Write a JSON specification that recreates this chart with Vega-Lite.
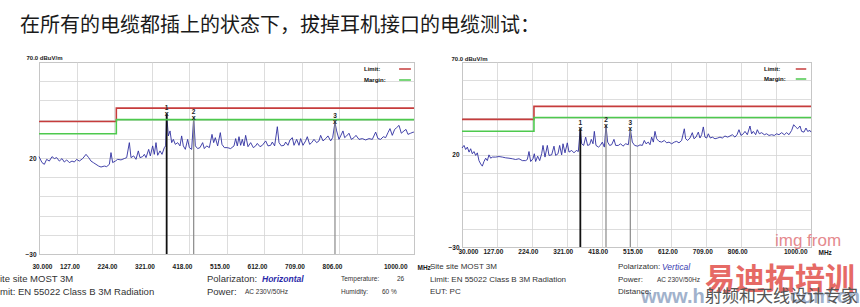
{
"$schema": "https://vega.github.io/schema/vega-lite/v6.json",
"background": "white",
"padding": {"left": 0, "top": 15, "right": 0, "bottom": 0},
"title": {"text": "在所有的电缆都插上的状态下，拔掉耳机接口的电缆测试：", "anchor": "start", "frame": "group", "dx": -19, "offset": 18, "font": "Noto Sans CJK SC", "fontSize": 20, "fontWeight": "normal", "color": "#1a1a1a"},
"datasets": {
"leftTrace": [
{"f":30,"v":20.7},{"f":37.8,"v":17.6},{"f":43.8,"v":16.7},{"f":49.8,"v":19.3},{"f":56.7,"v":18.4},{"f":63.6,"v":20.7},{"f":69.7,"v":19.7},{"f":75.7,"v":20.2},{"f":82.6,"v":18.4},{"f":89.5,"v":19.7},{"f":95.5,"v":17.9},{"f":101.6,"v":19.0},{"f":108.5,"v":17.6},{"f":115.4,"v":18.4},{"f":121.4,"v":17.9},{"f":127.4,"v":19.3},{"f":134.3,"v":18.4},{"f":143,"v":19.7},{"f":151.6,"v":21.9},{"f":158.5,"v":20.2},{"f":164.5,"v":18.4},{"f":170.5,"v":17.6},{"f":177.4,"v":16.7},{"f":184.3,"v":15.8},{"f":190.4,"v":15.3},{"f":199,"v":15.8},{"f":205,"v":15.5},{"f":212,"v":16.7},{"f":216.2,"v":22.8},{"f":220.5,"v":17.6},{"f":227.4,"v":18.4},{"f":233.5,"v":19.3},{"f":242.1,"v":19.0},{"f":250.7,"v":19.7},{"f":256.8,"v":20.2},{"f":263.7,"v":28.0},{"f":268,"v":20.2},{"f":274.9,"v":21.1},{"f":280.9,"v":19.3},{"f":286.9,"v":23.7},{"f":291.2,"v":20.2},{"f":298.1,"v":20.7},{"f":302.5,"v":21.9},{"f":306.8,"v":20.2},{"f":313.7,"v":24.5},{"f":318,"v":21.1},{"f":324,"v":26.3},{"f":328.3,"v":21.9},{"f":332.6,"v":28.0},{"f":337,"v":21.4},{"f":343,"v":23.7},{"f":348.2,"v":21.9},{"f":354.2,"v":25.4},{"f":357.6,"v":26.3},{"f":360.2,"v":43.0},{"f":364.5,"v":31.5},{"f":368.9,"v":34.1},{"f":373.2,"v":28.0},{"f":377.5,"v":29.7},{"f":382.6,"v":27.1},{"f":388.7,"v":28.0},{"f":394.7,"v":26.3},{"f":399,"v":31.5},{"f":403.3,"v":26.3},{"f":408.5,"v":24.5},{"f":414.5,"v":29.7},{"f":418.9,"v":25.4},{"f":424.9,"v":24.5},{"f":430.1,"v":41.0},{"f":434.4,"v":26.3},{"f":440.4,"v":24.9},{"f":446.4,"v":25.4},{"f":453.3,"v":28.0},{"f":457.6,"v":24.9},{"f":463.7,"v":26.3},{"f":470.6,"v":25.4},{"f":477.5,"v":32.3},{"f":481.8,"v":28.0},{"f":486.1,"v":30.6},{"f":492.1,"v":26.3},{"f":499,"v":33.2},{"f":503.3,"v":27.1},{"f":509.4,"v":25.4},{"f":517.1,"v":25.4},{"f":525.7,"v":24.9},{"f":534.4,"v":26.3},{"f":538.7,"v":30.1},{"f":543,"v":26.3},{"f":547.3,"v":31.1},{"f":551.6,"v":26.6},{"f":555.9,"v":29.7},{"f":560.2,"v":26.3},{"f":564.5,"v":31.8},{"f":570.6,"v":25.9},{"f":577.5,"v":28.0},{"f":584.4,"v":25.4},{"f":590.4,"v":26.3},{"f":594.7,"v":27.6},{"f":601.6,"v":25.9},{"f":607.7,"v":26.6},{"f":616.3,"v":28.9},{"f":622.3,"v":26.3},{"f":629.2,"v":26.6},{"f":633.5,"v":28.3},{"f":639.5,"v":26.3},{"f":646.5,"v":36.3},{"f":650.8,"v":28.0},{"f":656.8,"v":26.3},{"f":663.7,"v":26.6},{"f":668,"v":28.3},{"f":674,"v":26.6},{"f":679.2,"v":29.4},{"f":685.3,"v":30.6},{"f":689.6,"v":26.6},{"f":696.5,"v":29.7},{"f":702.5,"v":26.6},{"f":706.8,"v":30.1},{"f":712.8,"v":26.6},{"f":719.7,"v":28.9},{"f":724,"v":31.1},{"f":730.1,"v":27.1},{"f":735.3,"v":28.0},{"f":741.3,"v":29.7},{"f":748.2,"v":28.0},{"f":754.2,"v":28.9},{"f":758.5,"v":31.8},{"f":764.6,"v":28.9},{"f":771.5,"v":30.1},{"f":777.5,"v":31.5},{"f":784.4,"v":28.9},{"f":789.6,"v":30.6},{"f":795.6,"v":38.5},{"f":799.9,"v":34.1},{"f":806,"v":29.7},{"f":810.3,"v":31.5},{"f":816.3,"v":34.1},{"f":820.6,"v":30.6},{"f":825.8,"v":31.5},{"f":831.8,"v":32.9},{"f":837.9,"v":29.7},{"f":844.8,"v":30.6},{"f":849.9,"v":31.8},{"f":857.7,"v":29.7},{"f":866.3,"v":30.1},{"f":874.9,"v":29.4},{"f":883.6,"v":30.1},{"f":892.2,"v":29.7},{"f":900.8,"v":33.5},{"f":906.8,"v":30.1},{"f":913.7,"v":29.7},{"f":920.6,"v":31.1},{"f":926.7,"v":30.6},{"f":932.7,"v":33.2},{"f":937.9,"v":35.3},{"f":943.9,"v":31.8},{"f":950,"v":34.9},{"f":955.1,"v":35.8},{"f":961.2,"v":37.0},{"f":967.2,"v":32.9},{"f":974.1,"v":34.1},{"f":979.3,"v":34.9},{"f":984.4,"v":32.3},{"f":991.3,"v":32.9},{"f":998.2,"v":33.5},{"f":1000,"v":33.2}
],
"rightTrace": [
{"f":30,"v":23.5},{"f":35.6,"v":24.9},{"f":40.2,"v":22.7},{"f":44.8,"v":24.0},{"f":49.6,"v":21.3},{"f":54.1,"v":23.1},{"f":58.7,"v":20.4},{"f":63.3,"v":21.6},{"f":68,"v":19.5},{"f":72.6,"v":20.9},{"f":77.2,"v":16.7},{"f":81.9,"v":14.9},{"f":86.5,"v":13.7},{"f":91.1,"v":16.2},{"f":95.8,"v":18.0},{"f":100.4,"v":16.7},{"f":105,"v":19.8},{"f":109.7,"v":18.0},{"f":114.3,"v":18.6},{"f":123.6,"v":18.6},{"f":132.8,"v":18.9},{"f":142.1,"v":18.6},{"f":151.4,"v":18.2},{"f":160.6,"v":18.0},{"f":169.9,"v":17.7},{"f":179.1,"v":17.3},{"f":188.4,"v":17.7},{"f":197.7,"v":16.7},{"f":206.9,"v":16.7},{"f":211.6,"v":17.3},{"f":216.2,"v":21.6},{"f":220.8,"v":16.2},{"f":227.3,"v":17.7},{"f":231,"v":20.4},{"f":234.7,"v":16.2},{"f":240.3,"v":19.1},{"f":245.9,"v":16.7},{"f":251.4,"v":20.4},{"f":255.1,"v":24.9},{"f":260.7,"v":18.6},{"f":267.2,"v":24.9},{"f":271.8,"v":19.5},{"f":279.2,"v":19.8},{"f":285.7,"v":24.5},{"f":290.3,"v":19.5},{"f":296.8,"v":20.4},{"f":301.4,"v":24.9},{"f":307,"v":19.8},{"f":310.7,"v":25.8},{"f":316.3,"v":20.9},{"f":322.7,"v":26.3},{"f":327.4,"v":21.3},{"f":334.8,"v":22.2},{"f":341.3,"v":20.9},{"f":347.8,"v":22.2},{"f":353.3,"v":21.6},{"f":358.9,"v":34.0},{"f":362.6,"v":25.8},{"f":368.1,"v":24.9},{"f":373.7,"v":29.4},{"f":379.2,"v":24.9},{"f":384.8,"v":25.3},{"f":389.4,"v":28.2},{"f":394.1,"v":25.8},{"f":397.8,"v":32.5},{"f":402.4,"v":24.9},{"f":409.6,"v":24.0},{"f":414.4,"v":24.9},{"f":420,"v":26.7},{"f":425.6,"v":24.0},{"f":430.2,"v":35.5},{"f":434.8,"v":26.7},{"f":440.4,"v":24.9},{"f":446,"v":25.3},{"f":452.4,"v":28.2},{"f":457.1,"v":24.9},{"f":464.5,"v":24.9},{"f":470.9,"v":25.8},{"f":477.4,"v":24.5},{"f":484.9,"v":25.8},{"f":492.3,"v":25.3},{"f":497.8,"v":33.8},{"f":503.4,"v":26.7},{"f":509.9,"v":24.9},{"f":518.2,"v":24.5},{"f":524.7,"v":25.2},{"f":531.2,"v":24.9},{"f":536.7,"v":27.6},{"f":541.4,"v":25.8},{"f":547.9,"v":26.7},{"f":552.5,"v":25.3},{"f":557.1,"v":29.4},{"f":561.8,"v":26.7},{"f":566.4,"v":32.5},{"f":571,"v":28.5},{"f":577.5,"v":27.1},{"f":584.9,"v":26.7},{"f":592.3,"v":27.6},{"f":598.8,"v":26.3},{"f":605.3,"v":26.7},{"f":612.7,"v":25.8},{"f":620.1,"v":26.7},{"f":626.6,"v":27.1},{"f":633.1,"v":26.3},{"f":640.5,"v":27.6},{"f":647.9,"v":33.9},{"f":651.6,"v":28.5},{"f":657.2,"v":27.6},{"f":663.7,"v":28.9},{"f":670.1,"v":31.8},{"f":674.8,"v":28.5},{"f":680.3,"v":29.4},{"f":686.8,"v":32.1},{"f":691.4,"v":28.9},{"f":696.1,"v":30.7},{"f":700.7,"v":34.9},{"f":705.3,"v":29.4},{"f":710,"v":28.9},{"f":714.6,"v":31.2},{"f":720.2,"v":28.9},{"f":725.7,"v":29.4},{"f":733.1,"v":28.5},{"f":740.5,"v":28.9},{"f":747.1,"v":29.4},{"f":753.5,"v":28.9},{"f":760.9,"v":30.0},{"f":768.3,"v":29.4},{"f":774.8,"v":30.0},{"f":781.3,"v":30.7},{"f":788.7,"v":29.4},{"f":794.3,"v":30.7},{"f":799.8,"v":33.4},{"f":805.4,"v":30.3},{"f":811.9,"v":31.2},{"f":816.5,"v":32.5},{"f":823,"v":30.7},{"f":830.4,"v":35.4},{"f":835,"v":31.2},{"f":839.7,"v":32.5},{"f":846.2,"v":30.7},{"f":850.8,"v":33.4},{"f":856.4,"v":31.2},{"f":862.8,"v":31.8},{"f":870.2,"v":30.7},{"f":876.7,"v":31.2},{"f":883.2,"v":30.3},{"f":890.6,"v":30.7},{"f":898,"v":30.3},{"f":904.5,"v":31.2},{"f":911,"v":30.7},{"f":918.4,"v":31.8},{"f":925.8,"v":30.7},{"f":932.3,"v":31.8},{"f":938.8,"v":30.7},{"f":946.2,"v":33.0},{"f":951.8,"v":36.1},{"f":957.3,"v":34.9},{"f":962.9,"v":33.9},{"f":969.4,"v":35.4},{"f":974,"v":32.5},{"f":980.5,"v":32.1},{"f":986.1,"v":34.3},{"f":990.7,"v":32.5},{"f":997.2,"v":33.0},{"f":1000,"v":32.1}
],
"limits": [
{"s":"Limit:","f":30,"v":39},{"s":"Limit:","f":230,"v":46},{"s":"Limit:","f":1000,"v":46},
{"s":"Margin:","f":30,"v":32.6},{"s":"Margin:","f":230,"v":40},{"s":"Margin:","f":1000,"v":40}
],
"leftMarkers": [{"m":1,"f":360.2,"v":43.0},{"m":2,"f":430.1,"v":41.0},{"m":3,"f":795.6,"v":38.5}],
"rightMarkers": [{"m":1,"f":358.9,"v":34.0},{"m":2,"f":430.2,"v":35.5},{"m":3,"f":497.8,"v":33.8}],
"leftInfo": [
{"row":1,"col":1,"k":"field","t":"ite site MOST 3M"},
{"row":1,"col":2,"k":"field","t":"Polarizaton:"},
{"row":1,"col":4,"k":"pol","t":"Horizontal"},
{"row":1,"col":5,"k":"detail","t":"Temperature:"},
{"row":1,"col":7,"k":"detail","t":"26"},
{"row":2,"col":1,"k":"field","t":"mit: EN 55022 Class B 3M Radiation"},
{"row":2,"col":2,"k":"field","t":"Power:"},
{"row":2,"col":3,"k":"detail","t":"AC 230V/50Hz"},
{"row":2,"col":5,"k":"detail","t":"Humidity:"},
{"row":2,"col":6,"k":"detail","t":"60 %"}
],
"rightInfo": [
{"row":1,"col":1,"k":"field","t":"Site site MOST 3M"},
{"row":2,"col":1,"k":"field","t":"Limit: EN 55022 Class B 3M Radiation"},
{"row":3,"col":1,"k":"field","t":"EUT: PC"},
{"row":1,"col":2,"k":"field","t":"Polarizaton:"},
{"row":1,"col":5,"k":"pol","t":"Vertical"},
{"row":2,"col":2,"k":"field","t":"Power:"},
{"row":2,"col":4,"k":"detail","t":"AC 230V/50Hz"},
{"row":3,"col":2,"k":"field","t":"Distance:"},
{"row":0,"col":7,"k":"wmLatin","t":"img from"},
{"row":4,"col":3,"k":"wmUrl","t":"www.h"},
{"row":4,"col":8,"k":"wmUrl","t":"com.cn"},
{"row":2,"col":6,"k":"wmBrand","t":"易迪拓培训"},
{"row":4,"col":6,"k":"wmSlogan","t":"射频和天线设计专家"}
]
},
"columns": 2,
"spacing": {"row": 25, "column": 48},
"bounds": "flush",
"align": "each",
"resolve": {"scale": {"color": "independent", "x": "independent", "y": "independent"}, "legend": {"color": "independent"}},
"concat": [
{
"width": 375, "height": 192,
"encoding": {
  "x": {"field": "f", "type": "quantitative", "scale": {"domain": [30, 1000], "nice": false, "zero": false},
   "axis": {"values": [30,127,224,321,418,515,612,709,806,903,1000], "labelExpr": "datum.value == 30 ? '30.000' : datum.value == 903 ? '' : format(datum.value, '.2f')", "labelFlush": true, "labelOverlap": false, "labelBound": false, "labelPadding": 9, "labelOffset": -7, "title": "MHz", "titleX": 378, "titleY": 13, "titleAlign": "left", "titleBaseline": "middle", "titleFontSize": 6.5, "titleFontWeight": "bold"}},
  "y": {"field": "v", "type": "quantitative", "scale": {"domain": [-30, 70], "nice": false, "zero": false},
   "axis": {"values": [-30,-20,-10,0,10,20,30,40,50,60,70], "labelExpr": "datum.value == 20 || datum.value == -30 ? datum.label : ''", "labelOverlap": false, "labelPadding": 3, "title": "70.0       dBuV/m", "titleAngle": 0, "titleX": -13, "titleY": -5, "titleAlign": "left", "titleBaseline": "middle", "titleFontSize": 6, "titleFontWeight": "bold"}}
},
"layer": [
{"data": {"name": "leftTrace"}, "mark": {"type": "line", "color": "#2f2fa0", "strokeWidth": 0.9}},
{"data": {"name": "leftMarkers"}, "mark": {"type": "rule"},
 "encoding": {"y2": {"datum": -30},
  "color": {"condition": {"test": "datum.m == 1", "value": "#111111"}, "value": "#8a8a8a"},
  "strokeWidth": {"condition": {"test": "datum.m == 1", "value": 1.8}, "value": 1.2}}},
{"data": {"name": "limits"}, "mark": {"type": "line", "interpolate": "step-after", "strokeWidth": 1.6},
 "encoding": {
  "color": {"field": "s", "type": "nominal", "scale": {"domain": ["Limit:", "Margin:"], "range": ["#c63c3c", "#4ec94e"]},
   "legend": {"orient": "top-right", "offset": 0, "title": null, "symbolType": "stroke", "symbolStrokeWidth": 1.5, "symbolSize": 140, "labelFontSize": 6, "labelFontWeight": "bold", "labelColor": "#111111", "labelOffset": -48, "rowPadding": 1, "padding": 0}}}},
{"data": {"name": "leftMarkers"}, "mark": {"type": "text", "text": "x", "fontSize": 7, "fontWeight": "bold", "color": "#222222", "baseline": "middle"}},
{"data": {"name": "leftMarkers"}, "mark": {"type": "text", "fontSize": 6.5, "fontWeight": "bold", "color": "#222222", "baseline": "middle", "dy": -6},
 "encoding": {"text": {"field": "m"}}}
]
},
{
"width": 349, "height": 185,
"encoding": {
  "x": {"field": "f", "type": "quantitative", "scale": {"domain": [30, 1000], "nice": false, "zero": false},
   "axis": {"values": [30,127,224,321,418,515,612,709,806,903,1000], "labelExpr": "datum.value == 30 ? '30.000' : datum.value == 903 ? '' : format(datum.value, '.2f')", "labelFlush": true, "labelOverlap": false, "labelBound": false, "labelPadding": 1, "labelOffset": -4, "title": "MHz", "titleX": 356, "titleY": 5, "titleAlign": "left", "titleBaseline": "middle", "titleFontSize": 6.5, "titleFontWeight": "bold"}},
  "y": {"field": "v", "type": "quantitative", "scale": {"domain": [-30, 70], "nice": false, "zero": false},
   "axis": {"values": [-30,-20,-10,0,10,20,30,40,50,60,70], "labelExpr": "datum.value == 20 || datum.value == -30 ? datum.label : ''", "labelOverlap": false, "labelPadding": 3, "title": "70.0       dBuV/m", "titleAngle": 0, "titleX": -11, "titleY": -4, "titleAlign": "left", "titleBaseline": "middle", "titleFontSize": 6, "titleFontWeight": "bold"}}
},
"layer": [
{"data": {"name": "rightTrace"}, "mark": {"type": "line", "color": "#2f2fa0", "strokeWidth": 0.9}},
{"data": {"name": "rightMarkers"}, "mark": {"type": "rule"},
 "encoding": {"y2": {"datum": -30},
  "color": {"condition": {"test": "datum.m == 1", "value": "#111111"}, "value": "#8a8a8a"},
  "strokeWidth": {"condition": {"test": "datum.m == 1", "value": 1.8}, "value": 1.2}}},
{"data": {"name": "limits"}, "mark": {"type": "line", "interpolate": "step-after", "strokeWidth": 1.6},
 "encoding": {
  "color": {"field": "s", "type": "nominal", "scale": {"domain": ["Limit:", "Margin:"], "range": ["#c63c3c", "#4ec94e"]},
   "legend": {"orient": "top-right", "offset": 1, "title": null, "symbolType": "stroke", "symbolStrokeWidth": 1.5, "symbolSize": 110, "labelFontSize": 6, "labelFontWeight": "bold", "labelColor": "#111111", "labelOffset": -43, "rowPadding": 1, "padding": 0}}}},
{"data": {"name": "rightMarkers"}, "mark": {"type": "text", "text": "x", "fontSize": 7, "fontWeight": "bold", "color": "#222222", "baseline": "middle"}},
{"data": {"name": "rightMarkers"}, "mark": {"type": "text", "fontSize": 6.5, "fontWeight": "bold", "color": "#222222", "baseline": "middle", "dy": -6},
 "encoding": {"text": {"field": "m"}}}
]
},
{
"width": 375, "height": 13,
"view": {"stroke": null},
"data": {"name": "leftInfo"},
"encoding": {
 "x": {"field": "col", "type": "quantitative", "scale": {"domain": [1,2,3,4,5,6,7], "range": [-39,168,206,223,302,343,358], "nice": false, "zero": false}, "axis": null},
 "y": {"field": "row", "type": "quantitative", "scale": {"domain": [1,2], "range": [0,13], "nice": false, "zero": false}, "axis": null},
 "text": {"field": "t"}
},
"layer": [
 {"transform": [{"filter": "datum.k == 'field'"}], "mark": {"type": "text", "align": "left", "baseline": "middle", "fontSize": 9.5, "color": "#333333"}},
 {"transform": [{"filter": "datum.k == 'detail'"}], "mark": {"type": "text", "align": "left", "baseline": "middle", "fontSize": 6.5, "color": "#333333"}},
 {"transform": [{"filter": "datum.k == 'pol'"}], "mark": {"type": "text", "align": "left", "baseline": "middle", "fontSize": 8.5, "fontWeight": "bold", "fontStyle": "italic", "color": "#2a2aa8"}}
]
},
{
"width": 349, "height": 13,
"view": {"stroke": null},
"data": {"name": "rightInfo"},
"encoding": {
 "x": {"field": "col", "type": "quantitative", "scale": {"domain": [1,2,3,4,5,6,7,8], "range": [-32,156,179,195,200,243,313,328], "nice": false, "zero": false}, "axis": null},
 "y": {"field": "row", "type": "quantitative", "scale": {"domain": [0,1,2,3,4], "range": [-38,-12,0.5,13,18], "nice": false, "zero": false}, "axis": null},
 "text": {"field": "t"}
},
"layer": [
 {"transform": [{"filter": "datum.k == 'wmUrl'"}], "mark": {"type": "text", "align": "left", "baseline": "middle", "fontSize": 20, "fontWeight": "bold", "color": "#8aa0c0", "opacity": 0.8}},
 {"transform": [{"filter": "datum.k == 'field'"}], "mark": {"type": "text", "align": "left", "baseline": "middle", "fontSize": 8, "color": "#333333"}},
 {"transform": [{"filter": "datum.k == 'detail'"}], "mark": {"type": "text", "align": "left", "baseline": "middle", "fontSize": 6.5, "color": "#333333"}},
 {"transform": [{"filter": "datum.k == 'pol'"}], "mark": {"type": "text", "align": "left", "baseline": "middle", "fontSize": 8.5, "fontStyle": "italic", "color": "#3a3ab0"}},
 {"transform": [{"filter": "datum.k == 'wmLatin'"}], "mark": {"type": "text", "align": "left", "baseline": "middle", "fontSize": 17, "color": "#e58a8e"}},
 {"transform": [{"filter": "datum.k == 'wmBrand'"}], "mark": {"type": "text", "align": "left", "baseline": "middle", "font": "Noto Sans CJK SC", "fontSize": 30, "fontWeight": "bold", "color": "#e0453f", "opacity": 0.8}},
 {"transform": [{"filter": "datum.k == 'wmSlogan'"}], "mark": {"type": "text", "align": "left", "baseline": "middle", "font": "Noto Sans CJK SC", "fontSize": 17, "color": "#555555"}}
]
}
],
"config": {
 "font": "Liberation Sans",
 "view": {"stroke": "#8f8f8f", "strokeWidth": 1},
 "axis": {"grid": true, "gridColor": "#d4d4d4", "gridWidth": 0.8, "ticks": false, "tickSize": 0, "domain": false, "labelOverlap": false, "labelFont": "Liberation Sans", "labelFontSize": 6.5, "labelFontWeight": "bold", "labelColor": "#1a1a1a", "titleColor": "#1a1a1a", "titleFont": "Liberation Sans"},
 "legend": {"labelFont": "Liberation Sans"}
}
}
